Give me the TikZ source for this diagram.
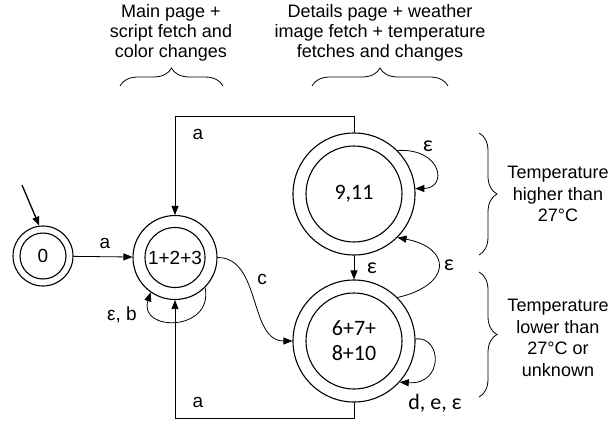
\documentclass[tikz,border=0pt]{standalone}
\usepackage{fontspec}
\setmainfont{Liberation Sans}
\newfontfamily\carl{Carlito}
\usetikzlibrary{arrows.meta,decorations.pathreplacing}
\newcommand\lblfont{\fontsize{19}{22}\selectfont}
\newcommand\clfont{\carl\fontsize{22}{25}\selectfont}
\newcommand\topfont{\fontsize{18}{20}\selectfont}
\newcommand\sidefont{\fontsize{18}{21.5}\selectfont}
\begin{document}
\begin{tikzpicture}[x=1pt,y=-1pt,
  st/.style={circle, draw, line width=1.1pt, inner sep=0pt},
  arr/.style={-{Triangle[length=9pt,width=7pt]}, line width=0.8pt},
  lbl/.style={font=\lblfont, inner sep=0pt},
  clbl/.style={font=\clfont, inner sep=0pt},
  brc/.style={decorate, decoration={brace, amplitude=18pt, aspect=0.5}, line width=0.8pt},
  ring/.style={line width=1.1pt}]
\useasboundingbox (0,0) rectangle (615,420);
% states
\node[st, minimum size=60pt, font=\lblfont] (s0) at (43,256) {0};
\draw[ring] (s0.center) circle[radius=23pt];
\node[st, minimum size=84pt, font=\lblfont] (s1) at (175,257.5) {1+2+3};
\draw[ring] (s1.center) circle[radius=30pt];
\node[st, minimum size=122pt, font=\clfont] (s9) at (354,194) {9,11};
\draw[ring] (s9.center) circle[radius=48pt];
\node[st, minimum size=122pt, font=\clfont, align=center] (s6) at (354,341) {6+7+\\8+10};
\draw[ring] (s6.center) circle[radius=48pt];
% initial arrow
\coordinate (i0) at (22,185);
\draw[arr, line width=1.3pt] (i0) -- (s0.97);
% 0 -> 1
\draw[arr] (s0) -- (s1);
\node[lbl] (la) at (105,243) {a};
% loop on 1
\draw[arr] (s1.-45) .. controls (214,332) and (138,332) .. (s1.-125);
\node[lbl] (leb) at (122,315) {ε, b};
% top route
\draw[arr] (s9.north) -- (s9.north |- 0,116) -| (s1.north);
\node[lbl] (la2) at (198,134) {a};
% bottom route
\draw[arr] (s6.south) -- (s6.south |- 0,418) -| (s1.south);
\node[lbl] (la3) at (198,402) {a};
% c
\draw[arr] (s1.east) to[out=0,in=180] (s6.west);
\node[lbl] (lc) at (262,279) {c};
% 9 -> 6
\draw[arr] (s9) -- (s6);
\node[clbl] (le1) at (372,268) {ε};
% 6 -> 9
\draw[arr] (s6.45) .. controls (452,285) and (452,248) .. (s9.-45);
\node[clbl] (le2) at (449,265) {ε};
% loop 9
\draw[arr] (s9.45) .. controls (442,148) and (448,188) .. (s9.5);
\node[clbl] (le3) at (428,146) {ε};
% loop 6
\draw[arr] (s6.2) .. controls (442,336) and (444,385) .. (s6.-42);
\node[clbl] (lde) at (435,403) {d, e, ε};
% braces
\draw[brc] (120,86) -- (223,86);
\draw[brc] (312,86) -- (448,86);
\draw[brc] (479,133) -- (479,255);
\draw[brc] (479,272) -- (479,397);
% texts
\node[font=\topfont, align=center, inner sep=0pt] (t1) at (171,33) {Main page +\\script fetch and\\color changes};
\node[font=\topfont, align=center, inner sep=0pt] (t2) at (380,33) {Details page + weather\\image fetch + temperature\\fetches and changes};
\node[font=\sidefont, align=center, inner sep=0pt] (t3) at (558,194) {Temperature\\higher than\\27°C};
\node[font=\sidefont, align=center, inner sep=0pt] (t4) at (558,338) {Temperature\\lower than\\27°C or\\unknown};
\end{tikzpicture}
\end{document}
